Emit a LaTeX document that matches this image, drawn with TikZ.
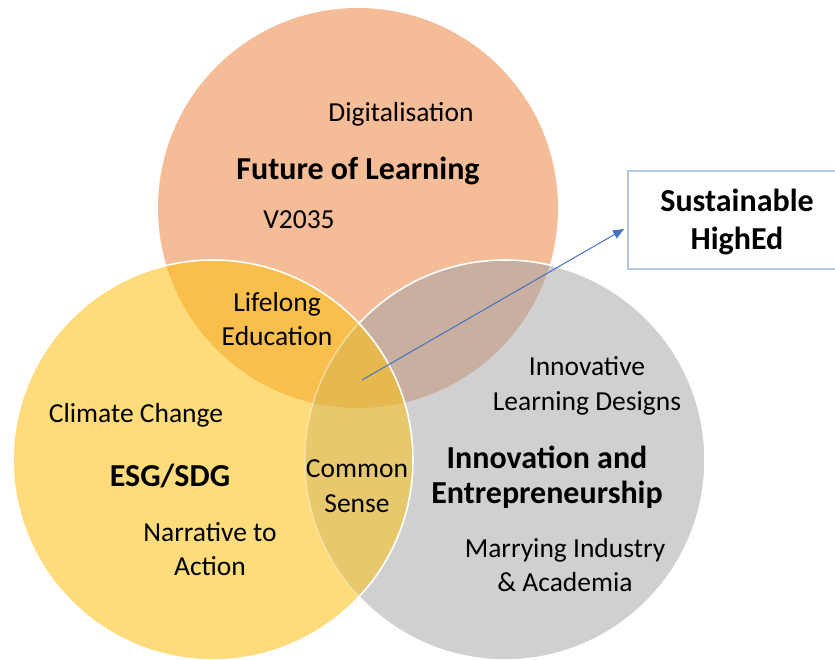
\documentclass[tikz,border=0pt]{standalone}
\usepackage{fontspec}
\setmainfont{Carlito}
\usetikzlibrary{arrows.meta}
\definecolor{peach}{HTML}{F4BC97}
\definecolor{sun}{HTML}{FEDB7B}
\definecolor{stone}{HTML}{D0D0D0}
\definecolor{peachsun}{HTML}{F8BF4D}
\definecolor{peachstone}{HTML}{C9AFA0}
\definecolor{sunstone}{HTML}{E7C86C}
\definecolor{core}{HTML}{E5B94F}
\definecolor{linkblue}{HTML}{4472C4}
\definecolor{frameblue}{HTML}{B4C7E7}
\begin{document}
\begin{tikzpicture}[x=1pt,y=-1pt,
  lbl/.style={font=\fontsize{27.5}{34.5}\selectfont, align=center, inner sep=0pt},
  ttl/.style={font=\fontsize{32}{35}\selectfont\bfseries, align=center, inner sep=0pt},
  rim/.style={white, line width=1.6pt},
  disc/.style={radius=200pt}]
\useasboundingbox (0,0) rectangle (835,660);
\clip (0,0) rectangle (835,660);
% circle centres
\coordinate (cT) at (358,208);
\coordinate (cL) at (213,460);
\coordinate (cR) at (505,460);
% top and right discs
\fill[peach] (cT) circle[disc];
\fill[stone] (cR) circle[disc];
\begin{scope}
  \clip (cT) circle[disc];
  \fill[peachstone] (cR) circle[disc];
\end{scope}
\draw[rim] (cR) circle[disc];
% left disc and its overlaps
\fill[sun] (cL) circle[disc];
\begin{scope}
  \clip (cL) circle[disc];
  \fill[peachsun] (cT) circle[disc];
  \fill[sunstone] (cR) circle[disc];
  \draw[white, opacity=0.35, line width=1.4pt] (cR) circle[disc];
  \clip (cT) circle[disc];
  \fill[core] (cR) circle[disc];
  \draw[white, opacity=0.35, line width=1.4pt] (cR) circle[disc];
\end{scope}
\draw[rim] (cL) circle[disc];
% labels
\node[lbl] (digi) at (401,114) {Digitalisation};
\node[ttl] (fol) at (358,171) {Future of Learning};
\node[lbl] (v2035) at (299,220) {V2035};
\node[lbl] (life) at (277,319) {Lifelong\\Education};
\node[lbl] (clim) at (136,415) {Climate Change};
\node[ttl] (esg) at (170,476) {ESG/SDG};
\node[lbl] (narr) at (210,549) {Narrative to\\Action};
\node[lbl] (comm) at (357,486) {Common\\Sense};
\node[lbl] (ild) at (587,386) {Innovative\\Learning Designs};
\node[ttl] (inno) at (547,477) {Innovation and\\Entrepreneurship};
\node[lbl] (marr) at (565,565) {Marrying Industry\\\& Academia};
% result box and link
\node[draw=frameblue, line width=2pt, minimum width=218pt, minimum height=98pt,
      anchor=north west, ttl, font=\fontsize{32}{38}\selectfont\bfseries] (box) at (627,170) {\strut Sustainable\\HighEd};
\coordinate (hub) at (362,380);
\coordinate (tip) at (624,229);
\draw[linkblue, line width=1pt, -{Triangle[length=11pt,width=9pt]}] (hub) -- (tip);
\end{tikzpicture}
\end{document}
